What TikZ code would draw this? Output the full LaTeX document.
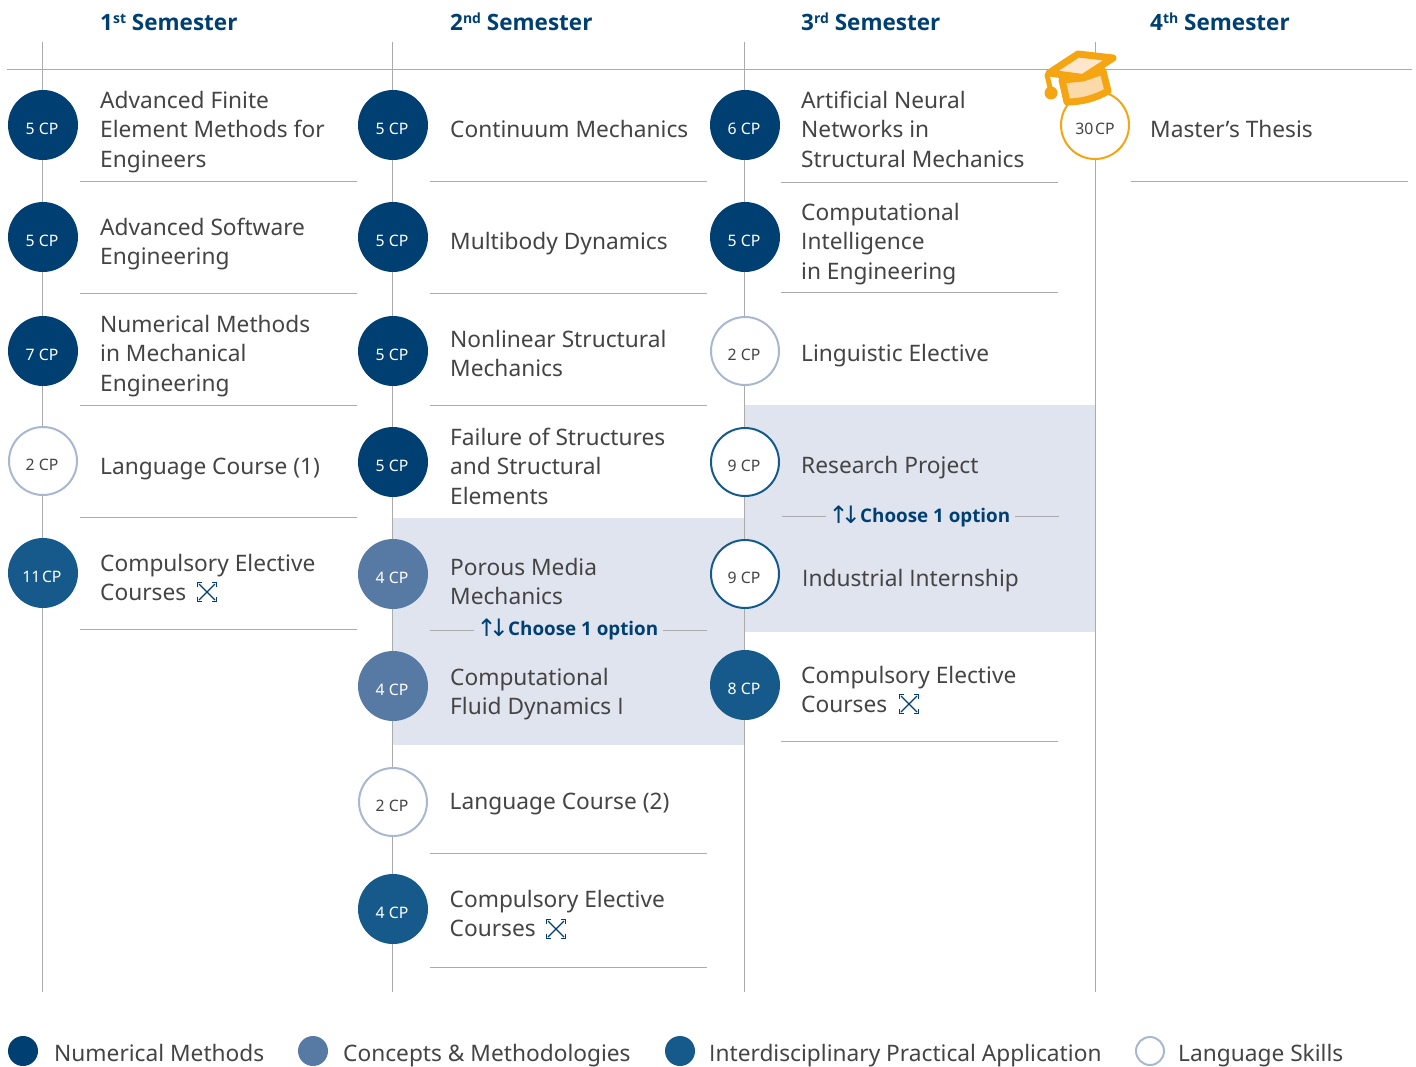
\documentclass[tikz,border=0pt]{standalone}
\usepackage{fontspec}
\setmainfont{Noto Sans}
\newfontfamily\arrowfont{DejaVu Sans}
\newfontfamily\boldface{Open Sans}
\newcommand{\plainI}{{\boldface I}}
\definecolor{numm}{HTML}{003F72}
\definecolor{conc}{HTML}{577AA4}
\definecolor{inter}{HTML}{155A8A}
\definecolor{lang}{HTML}{A9B7D1}
\definecolor{band}{HTML}{E0E4EF}
\definecolor{txt}{HTML}{444444}
\definecolor{rulec}{HTML}{ABABAB}
\definecolor{gold}{HTML}{F5A511}
\definecolor{capside}{HTML}{FCD9A8}
\definecolor{captop}{HTML}{FDE6CC}
\tikzset{
  circ/.style={circle,minimum size=70pt,inner sep=0pt,outer sep=0pt},
  cnum/.style={circ,fill=numm},
  cconc/.style={circ,fill=conc},
  cinter/.style={circ,fill=inter},
  clang/.style={circ,fill=white,draw=lang,line width=2pt,minimum size=68pt},
  cproj/.style={circ,fill=white,draw=inter,line width=2pt,minimum size=68pt},
  cthes/.style={circ,fill=white,draw=gold,line width=2pt,minimum size=68pt},
  cpw/.style={text=white,font=\fontsize{15.8}{18}\selectfont,inner sep=0pt},
  cpd/.style={text=txt,font=\fontsize{15.8}{18}\selectfont,inner sep=0pt},
  coursetext/.style={anchor=west,align=left,inner sep=0pt,text=txt,
    font=\fontsize{22.7}{29.5}\selectfont,
    execute at begin node=\strut,execute at end node=\strut},
  headtext/.style={anchor=west,inner sep=0pt,text=numm,font=\boldface\fontsize{22.5}{28}\selectfont\bfseries},
  legtext/.style={anchor=west,inner sep=0pt,text=txt,text height=17pt,text depth=6pt,font=\fontsize{22.7}{29}\selectfont},
  legdot/.style={circle,minimum size=30pt,inner sep=0pt},
  chooset/.style={anchor=west,inner sep=0pt,text=numm,font=\boldface\fontsize{18.8}{24}\selectfont\bfseries},
  choosea/.style={anchor=west,inner sep=0pt,text=numm,font=\arrowfont\fontsize{24}{24}\selectfont},
  thinrule/.style={draw=rulec,line width=1pt},
  iconline/.style={draw=numm,line width=1.3pt},
}
% id, x, y, style, cp-style, cp, text x, text y, text
\newcommand{\course}[9]{%
  \node[#4] (#1) at (#2,#3) {};
  \node[#5] (#1cp) at (#2-1,#3+3.5) {#6};
  \node[coursetext] (#1t) at (#7,#8+4) {#9};
}
\newcommand{\rl}[3]{\draw[thinrule] (#1,#3) -- (#2,#3);}
\newcommand{\expandicon}[2]{%
  \begin{scope}[shift={(#1,#2)}]
    \draw[iconline] (-8,-8) -- (8,8) (-8,8) -- (8,-8);
    \draw[iconline,line width=1.6pt] (-9.5,-5) -- (-9.5,-9.5) -- (-5,-9.5)
      (5,-9.5) -- (9.5,-9.5) -- (9.5,-5)
      (9.5,5) -- (9.5,9.5) -- (5,9.5)
      (-5,9.5) -- (-9.5,9.5) -- (-9.5,5);
  \end{scope}}
\newcommand{\sem}[1]{\raisebox{7pt}{\fontsize{14}{14}\selectfont #1}}
\begin{document}
\begin{tikzpicture}[x=1pt,y=-1pt]
\useasboundingbox (0,0) rectangle (1416,1066);
% bands
\fill[band] (393,518) rectangle (744,745);
\fill[band] (744,405) rectangle (1095,632);
% main lines
\coordinate (t1) at (42.5,42); \coordinate (b1) at (42.5,992);
\coordinate (t2) at (392.5,42); \coordinate (b2) at (392.5,992);
\coordinate (t3) at (744.5,42); \coordinate (b3) at (744.5,992);
\coordinate (t4) at (1095,42); \coordinate (b4) at (1095,992);
\coordinate (hl) at (7,69); \coordinate (hr) at (1412,69);
\foreach \i in {1,2,3,4} \draw[thinrule] (t\i) -- (b\i);
\draw[thinrule] (hl) -- (hr);
% headers
\node[headtext] (h1) at (100,22) {1\sem{st} Semester};
\node[headtext] (h2) at (450,22) {2\sem{nd} Semester};
\node[headtext] (h3) at (801,22) {3\sem{rd} Semester};
\node[headtext] (h4) at (1150,22) {4\sem{th} Semester};
% rules
\rl{80}{357}{181}\rl{80}{357}{293}\rl{80}{357}{405}\rl{80}{357}{517}\rl{80}{357}{629}
\rl{430}{707}{181}\rl{430}{707}{293}\rl{430}{707}{405}\rl{430}{707}{853}\rl{430}{707}{967}
\rl{430}{474}{630}\rl{663}{707}{630}
\rl{781}{1058}{182}\rl{781}{1058}{292}\rl{781}{1058}{741}
\rl{782}{826}{516}\rl{1015}{1059}{516}
\rl{1131}{1408}{181}
% semester 1
\course{a1}{43}{125}{cnum}{cpw}{5 CP}{100}{129.5}{Advanced Finite\\Element Methods for\\Engineers}
\course{a2}{43}{237}{cnum}{cpw}{5 CP}{100}{241.5}{Advanced Software\\Engineering}
\course{a3}{43}{351}{cnum}{cpw}{7 CP}{100}{353.5}{Numerical Methods\\in Mechanical\\Engineering}
\course{a4}{43}{461}{clang}{cpd}{2 CP}{100}{465}{Language Course (1)}
\course{a5}{43}{573}{cinter}{cpw}{11\kern1.5pt CP}{100}{578}{Compulsory Elective\\Courses}
% semester 2
\course{b1n}{393}{125}{cnum}{cpw}{5 CP}{450}{128}{Continuum Mechanics}
\course{b2n}{393}{237}{cnum}{cpw}{5 CP}{450}{240}{Multibody Dynamics}
\course{b3n}{393}{351}{cnum}{cpw}{5 CP}{450}{354}{Nonlinear Structural\\Mechanics}
\course{b4n}{393}{462}{cnum}{cpw}{5 CP}{450}{466.5}{Failure of Structures\\and Structural\\Elements}
\course{b5n}{393}{574}{cconc}{cpw}{4 CP}{450}{582}{Porous Media\\Mechanics}
\course{b6n}{393}{686}{cconc}{cpw}{4 CP}{450}{692}{Computational\\Fluid Dynamics \plainI}
\course{b7n}{393}{802}{clang}{cpd}{2 CP}{449.5}{800}{Language Course (2)}
\course{b8n}{393}{909}{cinter}{cpw}{4 CP}{449.5}{914}{Compulsory Elective\\Courses}
% semester 3
\course{c1}{745}{125}{cnum}{cpw}{6 CP}{801}{129.5}{Artificial Neural\\Networks in\\Structural Mechanics}
\course{c2}{745}{237}{cnum}{cpw}{5 CP}{801}{241.5}{Computational\\\plainI ntelligence\\in Engineering}
\course{c3}{745}{351}{clang}{cpd}{2 CP}{801}{352}{Linguistic Elective}
\course{c4}{745}{462}{cproj}{cpd}{9 CP}{801}{464}{Research Project}
\course{c5}{745}{574}{cproj}{cpd}{9 CP}{802}{577}{\plainI ndustrial \plainI nternship}
\course{c6}{745}{685}{cinter}{cpw}{8 CP}{801}{690}{Compulsory Elective\\Courses}
% semester 4
\course{d1}{1095}{125}{cthes}{cpd}{\kern2pt 30\kern1.5pt CP}{1150}{128}{Master’s Thesis}
% choose labels
\node[choosea] (ch1a) at (476.5,628) {↑\kern-8pt↓};
\node[chooset] (ch1) at (508,631) {Choose 1 option};
\node[choosea] (ch2a) at (828.5,515) {↑\kern-8pt↓};
\node[chooset] (ch2) at (860,518) {Choose 1 option};
% expand icons
\expandicon{207}{592}
\expandicon{556}{929}
\expandicon{909}{704}
% cap
\begin{scope}[line join=round,line cap=round,draw=gold,line width=7pt]
  \draw[fill=capside] (1062,80) -- (1067,102) .. controls (1082,102) and (1096,98) .. (1108,91) -- (1103,71) -- (1083,78) -- cycle;
  \draw[fill=captop] (1078,54) -- (1113,58) -- (1083,77.5) -- (1049,73) -- cycle;
  \draw[line width=5pt] (1047,75) -- (1051,92);
  \fill[gold] (1051,93) circle (6.5pt);
\end{scope}
% legend
\node[legdot,fill=numm] (l1) at (23,1051) {};
\node[legtext] (l1t) at (54,1056) {Numerical Methods};
\node[legdot,fill=conc] (l2) at (313,1051) {};
\node[legtext] (l2t) at (343,1056) {Concepts \& Methodologies};
\node[legdot,fill=inter] (l3) at (680,1051) {};
\node[legtext] (l3t) at (709,1056) {\plainI nterdisciplinary Practical Application};
\node[legdot,fill=white,draw=lang,line width=2pt,minimum size=28pt] (l4) at (1150,1051) {};
\node[legtext] (l4t) at (1178,1056) {Language Skills};
\end{tikzpicture}
\end{document}
